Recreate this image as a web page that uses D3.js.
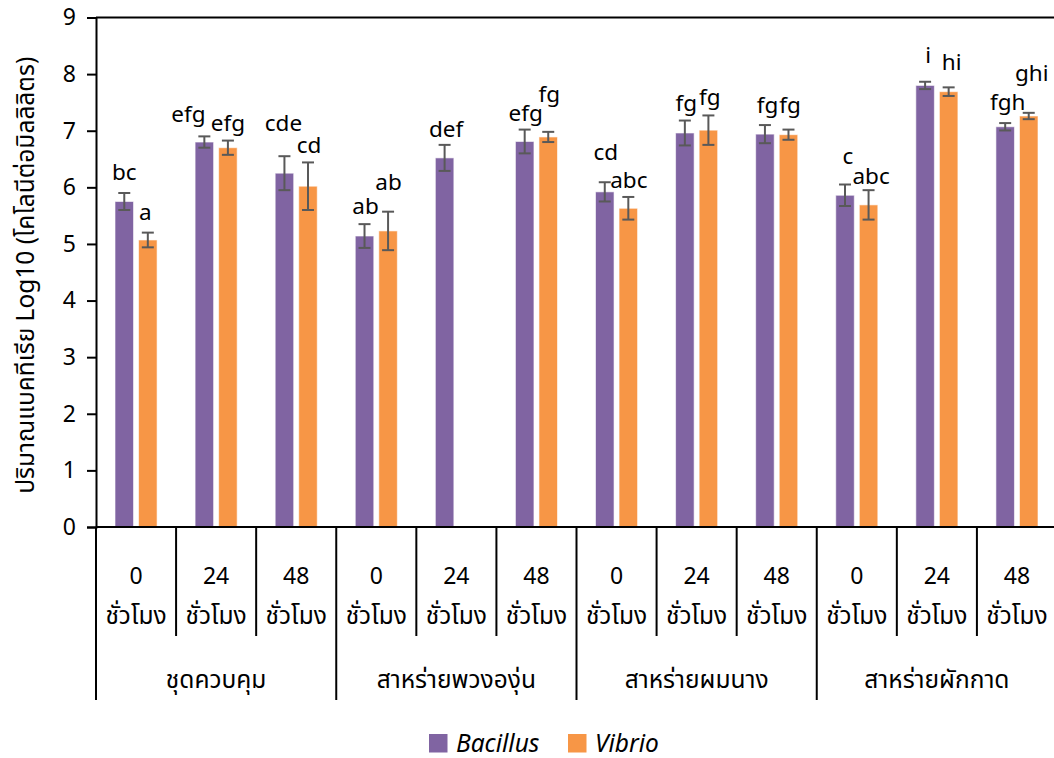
<!DOCTYPE html>
<html>
<head>
<meta charset="utf-8">
<script src="https://cdn.jsdelivr.net/npm/d3@7"></script>
<style>
  html, body { margin: 0; padding: 0; background: #fff; }
  svg text { font-family: "Noto Sans Thai", "Noto Sans", "Open Sans", sans-serif; fill: #000; }
  svg text.legend-label { font-family: "Noto Sans", "Open Sans", sans-serif; }
</style>
</head>
<body>
<svg id="chart" width="1054" height="758"></svg>
<script>
// Sampling times within each treatment
const hours = ["0", "24", "48", "0", "24", "48", "0", "24", "48", "0", "24", "48"];
const hourUnit = "ชั่วโมง";
// Treatments (each spans three sampling times)
const treatments = ["ชุดควบคุม", "สาหร่ายพวงองุ่น", "สาหร่ายผมนาง", "สาหร่ายผักกาด"];
const seriesNames = ["Bacillus", "Vibrio"];

// Mean log10 CFU/mL and error (SD) per group
const bacillus    = [5.75, 6.80, 6.25, 5.14, 6.52, 6.81, 5.92, 6.96, 6.94, 5.86, 7.80, 7.07];
const bacillusErr = [0.15, 0.10, 0.30, 0.21, 0.23, 0.21, 0.17, 0.22, 0.16, 0.19, 0.065, 0.065];
const vibrio      = [5.07, 6.70, 6.02, 5.23, null, 6.89, 5.63, 7.01, 6.93, 5.69, 7.69, 7.26];
const vibrioErr   = [0.13, 0.126, 0.42, 0.34, null, 0.09, 0.20, 0.26, 0.09, 0.26, 0.076, 0.056];

// Significance letters
const bacillusLetters = ["bc", "efg", "cde", "ab", "def", "efg", "cd", "fg", "fg", "c", "i", "fgh"];
const vibrioLetters   = ["a", "efg", "cd", "ab", null, "fg", "abc", "fg", "fg", "abc", "hi", "ghi"];

const yTicks = [0, 1, 2, 3, 4, 5, 6, 7, 8, 9];
const yTitle = "ปริมาณแบคทีเรีย Log10 (โคโลนีต่อมิลลิลิตร)";

// Letter placement nudges [dx, dy] in px, relative to bar centre / error-bar top
const bacillusLabelNudge = [[0,-13],[-16,-14],[-1,-25],[1,-10],[1.5,-8],[1,-9],[1,-22],[1.5,-10],[2.5,-12],[3,-21],[3,-19],[2.5,-13]];
const vibrioLabelNudge   = [[-2.5,-13],[0,-10],[1,-9],[0.5,-22],null,[1,-30],[0.5,-9],[1.5,-10],[1.5,-17],[2.5,-6],[3,-17],[3,-32]];

const colors = { Bacillus: "#8064A2", Vibrio: "#F79646" };

const svg = d3.select("#chart");
const plotLeft = 96, plotRight = 1057, plotTop = 17.5, plotBottom = 527;

const x0 = d3.scaleBand().domain(d3.range(hours.length)).range([plotLeft, plotRight]).padding(0);
const x1 = d3.scaleBand().domain(seriesNames)
  .range([19, x0.bandwidth() - 19]).paddingInner(0.213).paddingOuter(0);
const y = d3.scaleLinear().domain([0, 9]).range([plotBottom, plotTop]);

const series = [
  { name: "Bacillus", values: bacillus, err: bacillusErr, letters: bacillusLetters, nudge: bacillusLabelNudge },
  { name: "Vibrio", values: vibrio, err: vibrioErr, letters: vibrioLetters, nudge: vibrioLabelNudge }
];

// Top border of the plot area
svg.append("line").attr("x1", plotLeft).attr("x2", 1054).attr("y1", plotTop).attr("y2", plotTop)
  .attr("stroke", "#000").attr("stroke-width", 2);

// Y axis
const yAxis = svg.append("g").attr("transform", `translate(${plotLeft},0)`)
  .call(d3.axisLeft(y).tickValues(yTicks).tickSize(9).tickPadding(11).tickFormat(d3.format("d")));
yAxis.select(".domain").attr("stroke", "#000").attr("stroke-width", 2);
yAxis.selectAll(".tick line").attr("stroke", "#000").attr("stroke-width", 2);
yAxis.selectAll(".tick text").attr("font-size", 23).style("font-family", "'Noto Sans Thai','Noto Sans','Open Sans',sans-serif");

svg.append("text")
  .attr("transform", `translate(27,${(plotTop + plotBottom) / 2 + 3}) rotate(-90)`)
  .attr("text-anchor", "middle").attr("dominant-baseline", "middle")
  .attr("font-size", 24.5).text(yTitle);

// Bars
const rows = series.flatMap(s => s.values.map((v, i) => ({ s, i, v, e: s.err[i] })))
  .filter(d => d.v != null);

svg.append("g").selectAll("rect").data(rows).join("rect")
  .attr("x", d => x0(d.i) + x1(d.s.name))
  .attr("width", x1.bandwidth())
  .attr("y", d => y(d.v))
  .attr("height", d => y(0) - y(d.v))
  .attr("fill", d => colors[d.s.name])
  .attr("stroke", "#fff").attr("stroke-opacity", 0.6).attr("stroke-width", 1);

// Error bars
const eb = svg.append("g").attr("stroke", "#595959").attr("stroke-width", 2);
rows.forEach(d => {
  const cx = x0(d.i) + x1(d.s.name) + x1.bandwidth() / 2;
  const y1 = y(d.v + d.e), y2 = y(d.v - d.e);
  eb.append("line").attr("x1", cx).attr("x2", cx).attr("y1", y1).attr("y2", y2);
  eb.append("line").attr("x1", cx - 6).attr("x2", cx + 6).attr("y1", y1).attr("y2", y1);
  eb.append("line").attr("x1", cx - 6).attr("x2", cx + 6).attr("y1", y2).attr("y2", y2);
});

// Significance letters
svg.append("g").selectAll("text").data(rows.filter(d => d.s.letters[d.i]))
  .join("text")
  .attr("x", d => x0(d.i) + x1(d.s.name) + x1.bandwidth() / 2 + d.s.nudge[d.i][0])
  .attr("y", d => y(d.v + d.e) + d.s.nudge[d.i][1])
  .attr("text-anchor", "middle").attr("font-size", 22.5)
  .text(d => d.s.letters[d.i]);

// X axis baseline
svg.append("line").attr("x1", plotLeft).attr("x2", 1054).attr("y1", plotBottom).attr("y2", plotBottom)
  .attr("stroke", "#000").attr("stroke-width", 2);

// Separators between sampling times and between treatments
const xa = svg.append("g").attr("stroke", "#000").attr("stroke-width", 2);
d3.range(hours.length + 1).forEach(i => {
  const xx = i < hours.length ? x0(i) : plotRight;
  const isGroupEdge = i % 3 === 0;
  xa.append("line").attr("x1", xx).attr("x2", xx).attr("y1", plotBottom)
    .attr("y2", isGroupEdge ? 700 : 636);
});

// Hour labels
const hl = svg.append("g").attr("text-anchor", "middle");
hours.forEach((h, i) => {
  const cx = x0(i) + x0.bandwidth() / 2;
  hl.append("text").attr("x", cx).attr("y", 584).attr("font-size", 23).text(h);
  hl.append("text").attr("x", cx).attr("y", 624).attr("font-size", 24.5).text(hourUnit);
});

// Treatment labels
treatments.forEach((t, g) => {
  const cx = (x0(g * 3) + x0(g * 3 + 2) + x0.bandwidth()) / 2;
  svg.append("text").attr("x", cx).attr("y", 688).attr("text-anchor", "middle")
    .attr("font-size", 24.5).text(t);
});

// Legend
const legendItems = [{ name: "Bacillus", x: 429 }, { name: "Vibrio", x: 568 }];
const lg = svg.append("g");
legendItems.forEach(it => {
  lg.append("rect").attr("x", it.x).attr("y", 734).attr("width", 18.5).attr("height", 18.5)
    .attr("fill", colors[it.name]);
  lg.append("text").attr("class", "legend-label")
    .attr("x", it.x + 27).attr("y", 752).attr("font-size", 24.5)
    .attr("font-style", "italic").text(it.name);
});
</script>
</body>
</html>
